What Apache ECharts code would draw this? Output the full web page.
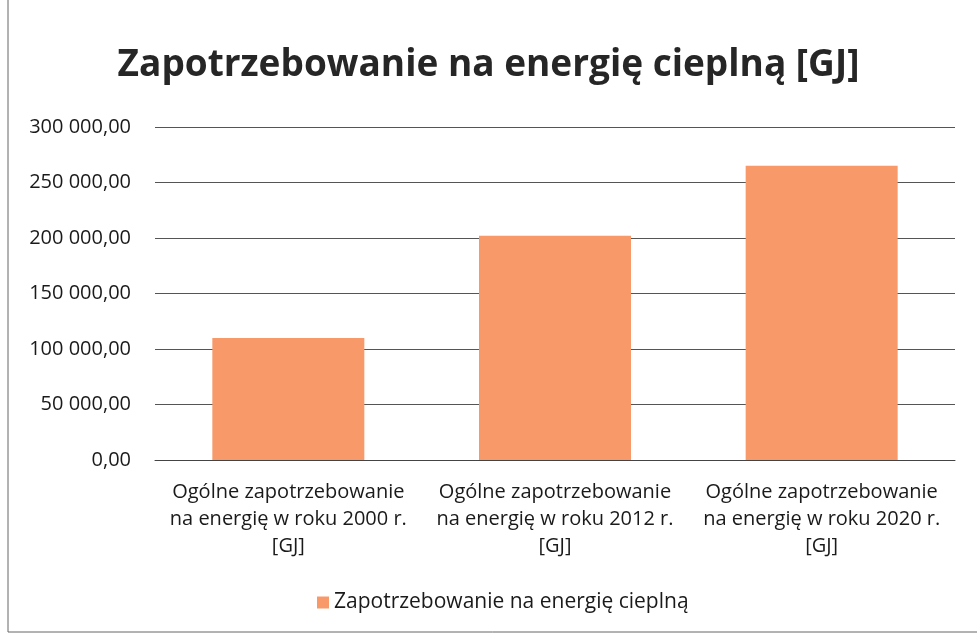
<!DOCTYPE html>
<html>
<head>
<meta charset="utf-8">
<script src="https://cdn.jsdelivr.net/npm/echarts@6/dist/echarts.min.js"></script>
<style>
    html, body { margin: 0; padding: 0; background: #fff; }
    #main { width: 977px; height: 636px; }
</style>
</head>
<body>
<div id="main"></div>
<script>
// dane wykresu
var kategorie = [
    "Ogólne zapotrzebowanie\nna energię w roku 2000 r.\n[GJ]",
    "Ogólne zapotrzebowanie\nna energię w roku 2012 r.\n[GJ]",
    "Ogólne zapotrzebowanie\nna energię w roku 2020 r.\n[GJ]"
];
var wartosci = [110000, 202000, 265000];
var nazwaSerii = "Zapotrzebowanie na energię cieplną";
var tytul = "Zapotrzebowanie na energię cieplną [GJ]";

function formatPl(v) {
    var s = Math.round(v).toString().replace(/\B(?=(\d{3})+(?!\d))/g, " ");
    return s + ",00";
}

var chart = echarts.init(document.getElementById("main"));
var option = {
    backgroundColor: "#ffffff",
    color: ["#f8996a"],
    title: {
        text: tytul,
        left: "center",
        top: 42,
        textStyle: {
            fontFamily: "Open Sans",
            fontWeight: "bold",
            fontSize: 37,
            color: "#262626"
        }
    },
    legend: {
        bottom: 18,
        left: 312,
        itemWidth: 12,
        itemHeight: 12,
        itemGap: 6,
        icon: "rect",
        textStyle: {
            fontFamily: "Open Sans",
            fontSize: 21,
            color: "#1a1a1a"
        },
        data: [nazwaSerii]
    },
    grid: {
        left: 155,
        right: 22,
        top: 127,
        bottom: 176
    },
    xAxis: {
        type: "category",
        data: kategorie,
        axisTick: { show: false },
        axisLine: { lineStyle: { color: "#444" } },
        axisLabel: {
            interval: 0,
            margin: 19,
            lineHeight: 27,
            fontFamily: "Open Sans",
            fontSize: 20,
            color: "#1a1a1a"
        }
    },
    yAxis: {
        type: "value",
        min: 0,
        max: 300000,
        interval: 50000,
        axisLine: { show: false },
        axisTick: { show: false },
        splitLine: { lineStyle: { color: "#555", width: 1 } },
        axisLabel: {
            margin: 24,
            fontFamily: "Open Sans",
            fontSize: 20,
            color: "#1a1a1a",
            formatter: formatPl
        }
    },
    graphic: [
        {
            type: "line",
            shape: { x1: 8, y1: 0, x2: 8, y2: 632 },
            style: { stroke: "#666", lineWidth: 1 }
        },
        {
            type: "line",
            shape: { x1: 8, y1: 632, x2: 977, y2: 632 },
            style: { stroke: "#666", lineWidth: 1 }
        }
    ],
    series: [
        {
            name: nazwaSerii,
            type: "bar",
            barWidth: "57%",
            data: wartosci
        }
    ]
};
chart.setOption(option);
</script>
</body>
</html>
